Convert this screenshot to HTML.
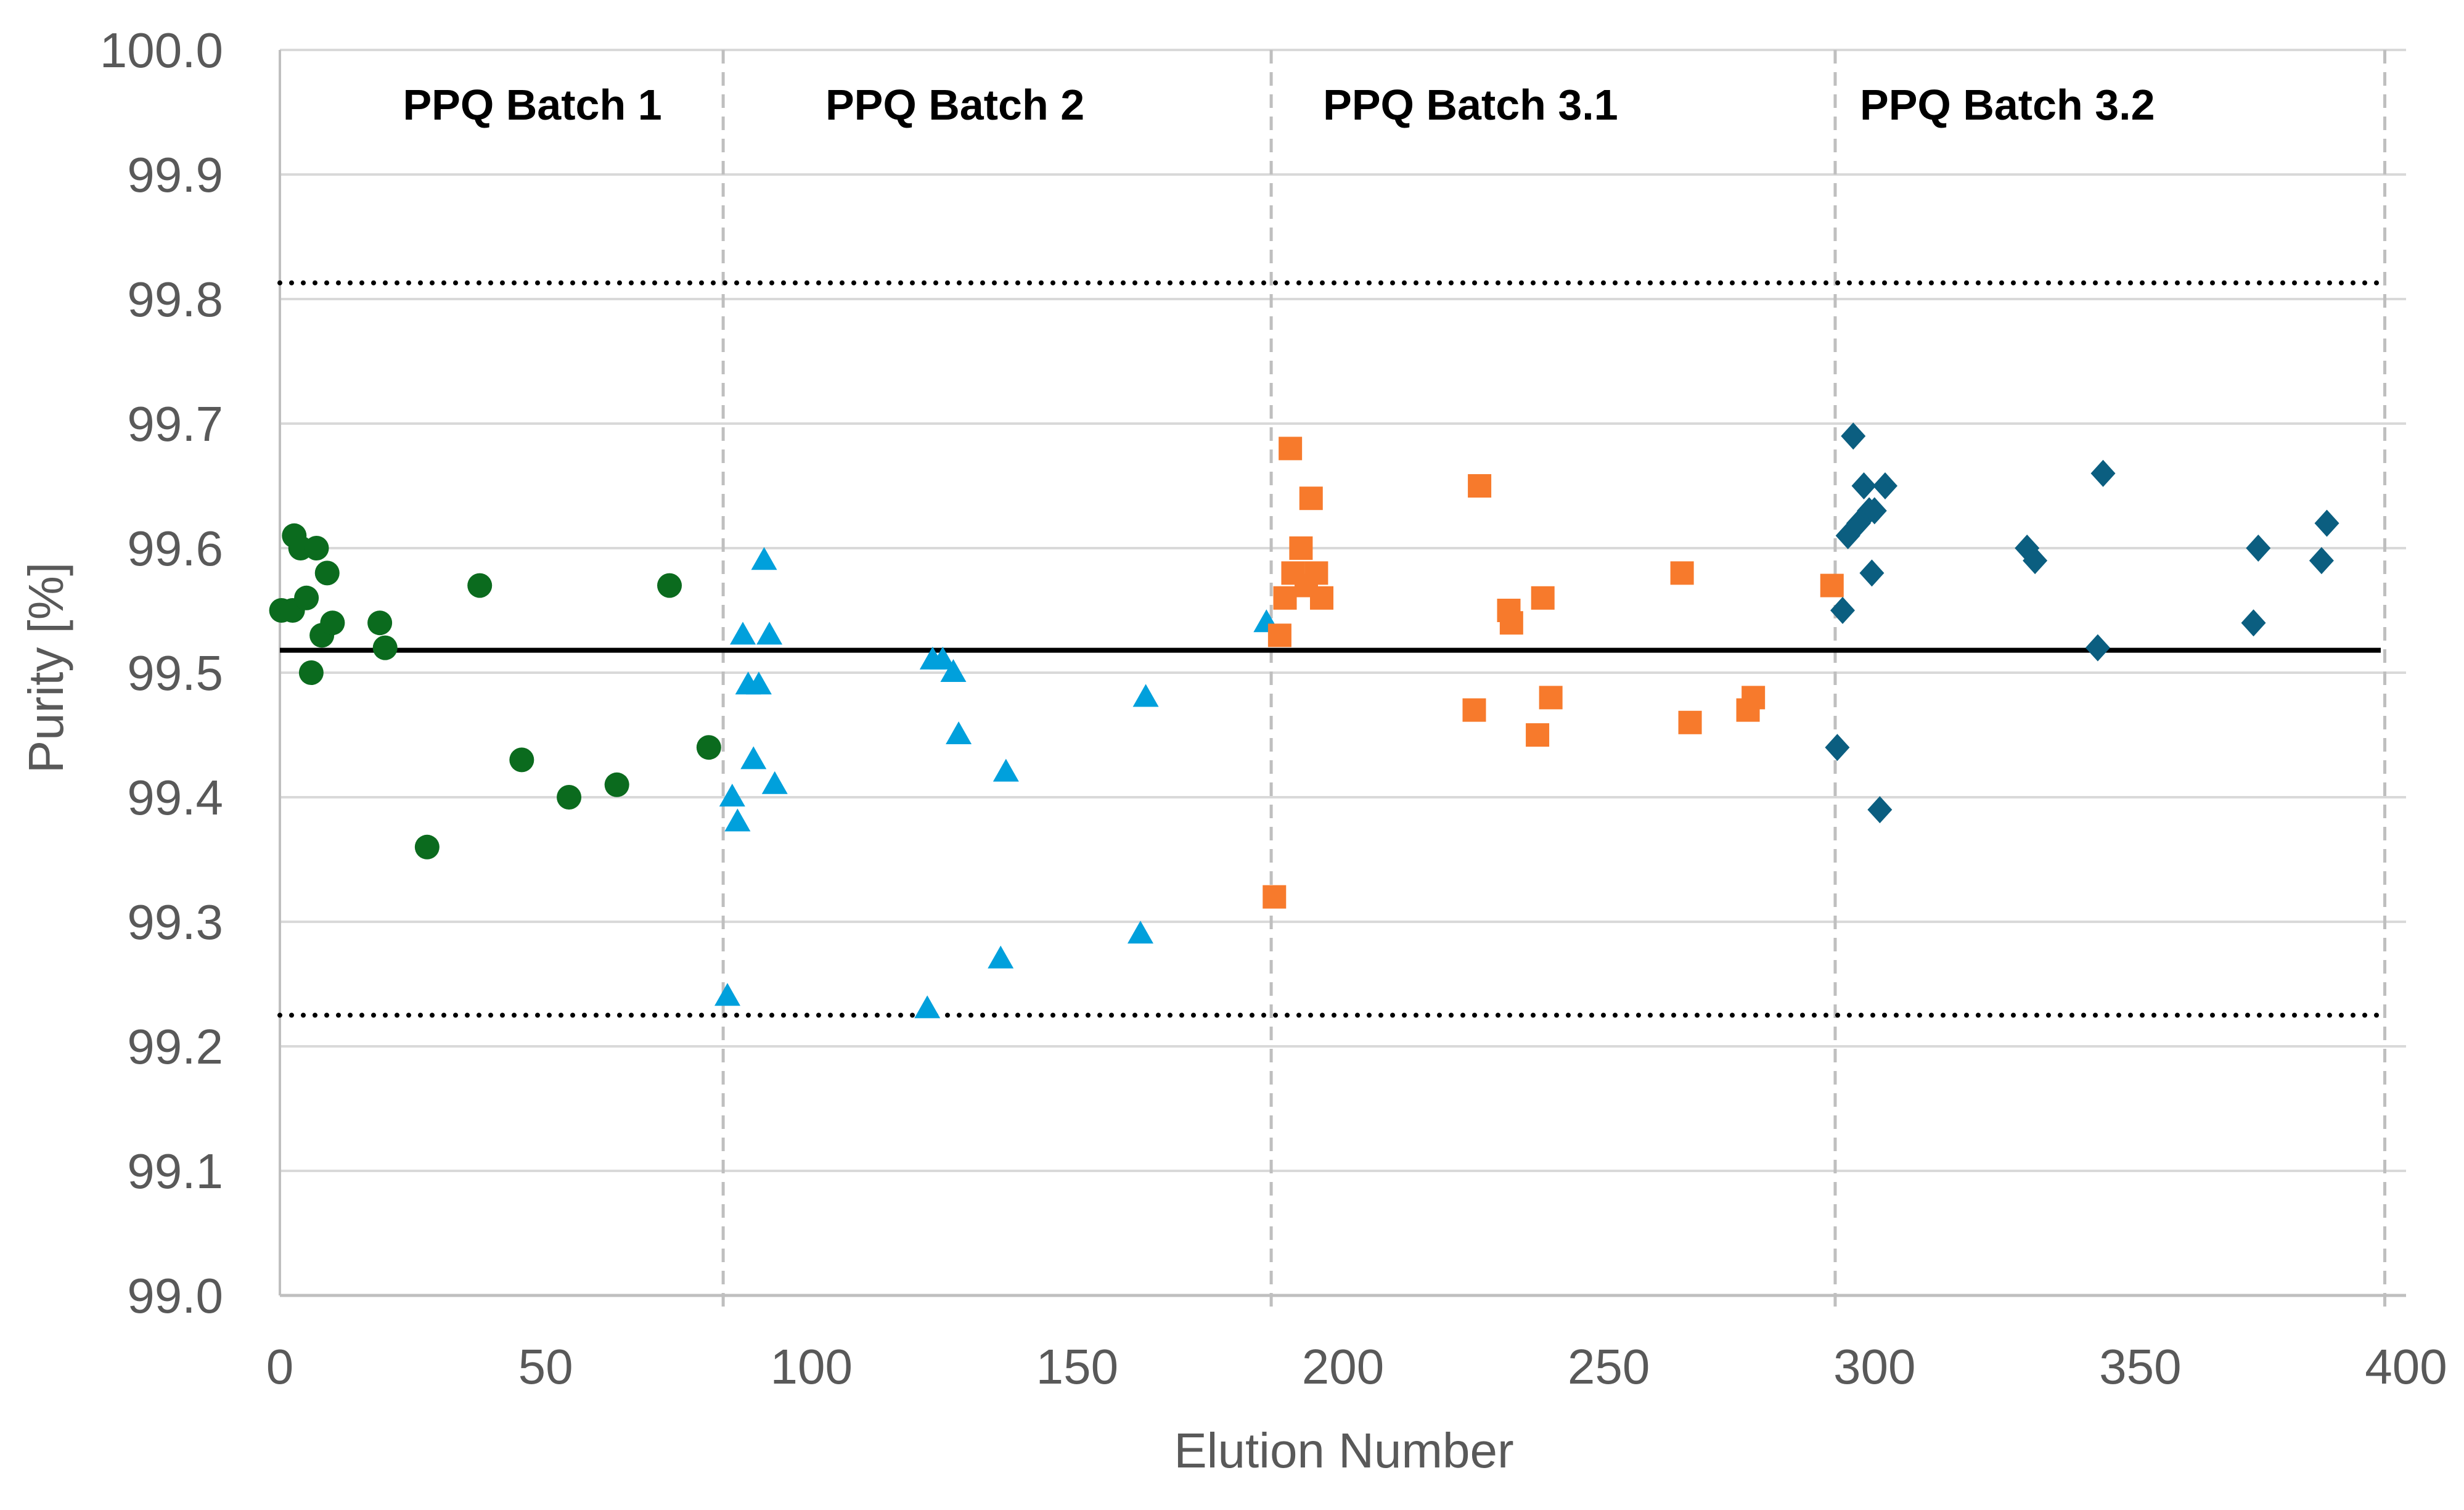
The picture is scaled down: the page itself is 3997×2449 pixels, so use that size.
<!DOCTYPE html>
<html><head><meta charset="utf-8"><style>
body{margin:0;background:#fff;}
svg text{font-family:"Liberation Sans",sans-serif;}
</style></head><body>
<svg id="chart" width="3997" height="2444" xmlns="http://www.w3.org/2000/svg">
<g id="grid"></g>
<g id="axes"></g>
<g id="marks"></g>
</svg>
<script>
const yTicks=[99.0,99.1,99.2,99.3,99.4,99.5,99.6,99.7,99.8,99.9,100.0];
const xTicks=[0,50,100,150,200,250,300,350,400];
const batchBounds=[83.4,186.5,292.6,396];
const batchLabels=["PPQ Batch 1","PPQ Batch 2","PPQ Batch 3.1","PPQ Batch 3.2"];
const batchLabelX=[47.5,127,224,325];
const meanLine=99.518, upperLimit=99.813, lowerLimit=99.225;
const b1x=[0.3,2.4,2.7,3.9,5,5.9,6.9,7.9,8.9,9.9,18.8,19.8,27.7,37.6,45.5,54.4,63.4,73.3,80.7];
const b1y=[99.55,99.55,99.61,99.60,99.56,99.50,99.60,99.53,99.58,99.54,99.54,99.52,99.36,99.57,99.43,99.40,99.41,99.57,99.44];
const b2x=[84.2,85.1,86.1,87.1,88.1,89.1,90.1,91.1,92.1,93.1,121.8,122.8,124.7,126.7,127.7,135.6,136.6,161.9,162.9,185.6];
const b2y=[99.24,99.40,99.38,99.53,99.49,99.43,99.49,99.59,99.53,99.41,99.23,99.51,99.51,99.50,99.45,99.27,99.42,99.29,99.48,99.54];
const b3x=[187.1,188.1,189.1,190.1,190.6,192.1,193.1,194,195,196,224.7,225.7,231.2,231.7,236.6,237.6,239.1,263.8,265.3,276.2,277.2,292];
const b3y=[99.32,99.53,99.56,99.68,99.58,99.60,99.57,99.64,99.58,99.56,99.47,99.65,99.55,99.54,99.45,99.56,99.48,99.58,99.46,99.47,99.48,99.57];
const b4x=[293,294,295,296,297,298,299,299.5,300,301,302,328.7,330.2,342,343,371.3,372.2,384.1,385.1];
const b4y=[99.44,99.55,99.61,99.69,99.62,99.65,99.63,99.58,99.63,99.39,99.65,99.60,99.59,99.52,99.66,99.54,99.60,99.59,99.62];

const NS="http://www.w3.org/2000/svg";
const L=454,R=3903,T=81,B=2101;
const sx=v=>L+(v-0)/400*(R-L);
const sy=v=>B-(v-99.0)/1.0*(B-T);
function mk(tag,parent,attrs){const e=document.createElementNS(NS,tag);for(const k in attrs)e.setAttribute(k,attrs[k]);parent.appendChild(e);return e;}
const grid=document.getElementById('grid'),axes=document.getElementById('axes'),marks=document.getElementById('marks');

yTicks.forEach(t=>{
  const g=mk('line',grid,{x1:L,x2:3903,y1:sy(t),y2:sy(t),stroke:t===99.0?'#bfbfbf':'#d9d9d9','stroke-width':t===99.0?5:4});
  
  
  const tx=mk('text',axes,{x:362,y:sy(t)+28,'text-anchor':'end','font-size':80,fill:'#595959'});
  tx.textContent=t.toFixed(1);
  
  
});
const ax=mk('line',grid,{x1:L,x2:L,y1:T,y2:B,stroke:'#bfbfbf','stroke-width':4});


xTicks.forEach(t=>{
  const tx=mk('text',axes,{x:sx(t),y:2244,'text-anchor':'middle','font-size':80,fill:'#595959'});
  tx.textContent=t;
  
  
});
batchBounds.forEach(b=>{
  const d=mk('line',grid,{x1:sx(b),x2:sx(b),y1:T,y2:B+20,stroke:'#bfbfbf','stroke-width':5,'stroke-dasharray':'22 14'});
  
  
});
batchLabels.forEach((s,i)=>{
  const tx=mk('text',axes,{x:sx(batchLabelX[i]),y:194,'text-anchor':'middle','font-size':70,'font-weight':'bold',fill:'#000'});
  tx.textContent=s;
  
  
});
[[upperLimit,'upper-limit-line'],[lowerLimit,'lower-limit-line']].forEach(([v,n])=>{
  const l=mk('line',grid,{x1:L,x2:3862,y1:sy(v),y2:sy(v),stroke:'#000','stroke-width':8,'stroke-dasharray':'0 19','stroke-linecap':'round'});
  
  
});
const ml=mk('line',grid,{x1:L,x2:3862,y1:sy(meanLine),y2:sy(meanLine),stroke:'#000','stroke-width':8});



const yt=mk('text',axes,{x:0,y:0,transform:'translate(102,1083) rotate(-90)','text-anchor':'middle','font-size':80,fill:'#595959'});
yt.textContent='Purity [%]';


const xt=mk('text',axes,{x:2180,y:2380,'text-anchor':'middle','font-size':80,fill:'#595959'});
xt.textContent='Elution Number';



b1x.forEach((x,i)=>{
  const c=mk('circle',marks,{cx:sx(x),cy:sy(b1y[i]),r:20,fill:'#0b6b1e'});
  
  
});
b2x.forEach((x,i)=>{
  const X=sx(x),Y=sy(b2y[i]);
  const p=mk('polygon',marks,{points:`${X},${Y-22} ${X-21},${Y+15} ${X+21},${Y+15}`,fill:'#00a0dc'});
  
  
});
b3x.forEach((x,i)=>{
  const r=mk('rect',marks,{x:sx(x)-19,y:sy(b3y[i])-19,width:38,height:38,fill:'#f77a2c'});
  
  
});
b4x.forEach((x,i)=>{
  const X=sx(x),Y=sy(b4y[i]);
  const p=mk('polygon',marks,{points:`${X},${Y-22} ${X+20},${Y} ${X},${Y+22} ${X-20},${Y}`,fill:'#0b5e80'});
  
  
});
</script>
</body></html>
